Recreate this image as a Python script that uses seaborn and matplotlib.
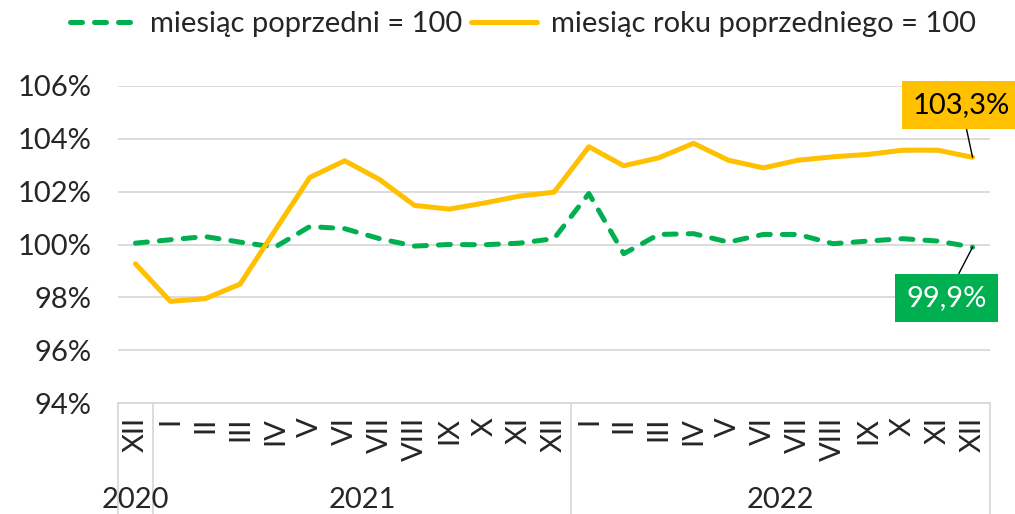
import numpy as np
import seaborn as sns
import matplotlib.pyplot as plt
import matplotlib.transforms as mtransforms

# dane
months = ["XII",
          "I", "II", "III", "IV", "V", "VI", "VII", "VIII", "IX", "X", "XI", "XII",
          "I", "II", "III", "IV", "V", "VI", "VII", "VIII", "IX", "X", "XI", "XII"]
years = ["2020", "2021", "2022"]
year_spans = [(0, 0), (1, 12), (13, 24)]

prev_month = [100.05, 100.18, 100.30, 100.09, 99.90, 100.68, 100.60, 100.22, 99.94, 100.00,
              99.99, 100.05, 100.22, 101.93, 99.65, 100.38, 100.41, 100.09, 100.38, 100.38,
              100.03, 100.13, 100.22, 100.13, 99.90]
prev_year = [99.27, 97.85, 97.95, 98.50, 100.53, 102.54, 103.17, 102.46, 101.48, 101.34,
             101.57, 101.83, 101.98, 103.70, 102.98, 103.28, 103.83, 103.19, 102.90, 103.19,
             103.32, 103.41, 103.57, 103.57, 103.30]

label_green = "miesiąc poprzedni = 100"
label_gold = "miesiąc roku poprzedniego = 100"

green = "#00B050"
gold = "#FFC000"
grid_c = "#D9D9D9"
fs = 21

sns.set_style("white")
plt.rcParams['font.family'] = ['Lato', 'DejaVu Sans']

fig = plt.figure(figsize=(10.15, 5.14), dpi=100)
ax = fig.add_axes([118 / 1015, 111 / 514, 872 / 1015, 317 / 514])

x = np.arange(len(months))
sns.lineplot(x=x, y=prev_month, color=green, linewidth=3.6, ax=ax, label=label_green)
sns.lineplot(x=x, y=prev_year, color=gold, linewidth=3.6, ax=ax, label=label_gold)
ln = ax.lines[0]
ln.set_dashes((2.4, 2.4))
ln.set_dash_capstyle('round')
ax.lines[1].set_solid_joinstyle('round')

ax.set_xlim(-0.5, len(months) - 0.5)
ax.set_ylim(94, 106)
ax.set_yticks(np.arange(94, 107, 2))
ax.set_yticklabels([f"{v}%" for v in range(94, 107, 2)], fontsize=fs)
ax.yaxis.grid(True, color=grid_c, linewidth=1.3)
ax.set_axisbelow(True)
ax.tick_params(axis='y', length=0, pad=19)

ax.set_xticks(x)
ax.set_xticklabels(months, rotation=90, fontsize=fs)
ax.tick_params(axis='x', length=0, pad=10)

for s in ['top', 'left', 'right']:
    ax.spines[s].set_visible(False)
ax.spines['bottom'].set_color(grid_c)
ax.spines['bottom'].set_linewidth(1.3)

# podziały lat pod osią
trans = mtransforms.blended_transform_factory(ax.transData, ax.transAxes)
for b in [-0.5, 0.5, 12.5, 24.5]:
    ax.plot([b, b], [0, -0.40], color=grid_c, linewidth=1.3, transform=trans, clip_on=False)
for yr, (a, b) in zip(years, year_spans):
    ax.text((a + b) / 2, -0.306, yr, transform=trans, ha='center', va='center', fontsize=fs)

# etykiety wartości
ax.annotate("103,3%", xy=(x[-1], prev_year[-1]), xytext=(23.68, 105.27),
            ha='center', va='center', fontsize=fs, color='black',
            bbox=dict(boxstyle='square,pad=0.38', fc=gold, ec='none'),
            arrowprops=dict(arrowstyle='-', color='black', lw=1, shrinkA=0, shrinkB=0),
            annotation_clip=False)
ax.annotate("99,9%", xy=(x[-1], prev_month[-1]), xytext=(23.25, 97.99),
            ha='center', va='center', fontsize=fs, color='white',
            bbox=dict(boxstyle='square,pad=0.38', fc=green, ec='none'),
            arrowprops=dict(arrowstyle='-', color='black', lw=1, shrinkA=0, shrinkB=0),
            annotation_clip=False)

ax.set_xlabel("")
ax.set_ylabel("")
leg = ax.legend(loc='center', ncol=2, frameon=False, fontsize=fs, handlelength=2.26,
                handletextpad=0.48, columnspacing=0.3)
leg.set_bbox_to_anchor((0.515, 1 - 24 / 514), transform=fig.transFigure)

fig.savefig("out.png", dpi=100)
